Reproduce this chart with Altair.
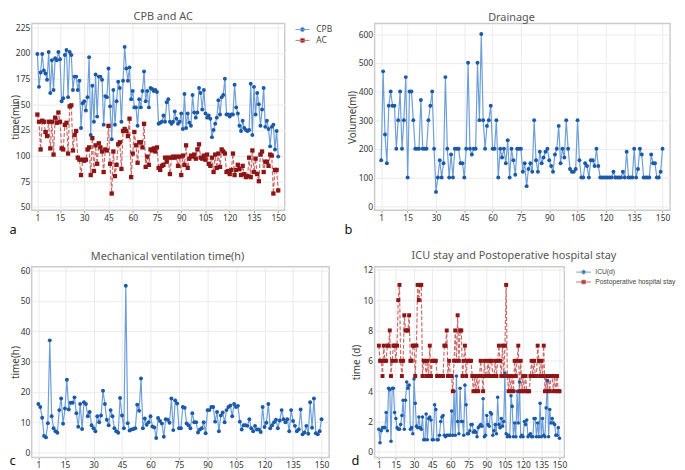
import altair as alt
import pandas as pd

FONT = "Noto Sans"
BLUE_D, BLUE_L = "#1c5aa8", "#6e9fd8"
RED_D, RED_L = "#8c1515", "#cc6a6a"

x_ticks = [1, 15, 30, 45, 60, 75, 90, 105, 120, 135, 150]
patient = list(range(1, 151))

cpb = [199, 167, 181, 199, 183, 180, 174, 201, 161, 193,
       164, 195, 193, 201, 194, 153, 156, 198, 203, 157,
       201, 198, 164, 177, 177, 164, 173, 127, 151, 153,
       144, 157, 196, 120, 168, 133, 179, 138, 177, 177,
       174, 130, 158, 157, 185, 148, 116, 164, 130, 153,
       172, 166, 133, 173, 206, 185, 173, 186, 155, 163,
       147, 147, 129, 155, 147, 163, 182, 153, 163, 147,
       166, 165, 163, 164, 162, 131, 132, 133, 139, 133,
       152, 155, 133, 131, 133, 143, 136, 131, 133, 141,
       126, 160, 127, 141, 132, 129, 159, 142, 137, 142,
       166, 161, 145, 164, 141, 137, 139, 136, 118, 125,
       131, 137, 154, 140, 157, 159, 175, 140, 140, 138,
       140, 140, 169, 147, 141, 129, 124, 134, 127, 125,
       124, 125, 170, 120, 167, 140, 161, 150, 129, 145,
       166, 128, 134, 126, 109, 128, 130, 106, 124, 99]

ac = [140, 133, 106, 134, 133, 123, 119, 133, 107, 133,
      101, 137, 132, 142, 133, 107, 106, 130, 132, 102,
      148, 149, 105, 120, 124, 98, 96, 81, 96, 95,
      96, 106, 108, 81, 117, 85, 110, 92, 112, 108,
      104, 84, 106, 105, 129, 92, 63, 104, 80, 91,
      111, 113, 87, 124, 126, 124, 119, 136, 79, 102,
      123, 110, 93, 113, 113, 108, 131, 89, 99, 91,
      106, 105, 107, 104, 108, 88, 86, 90, 91, 98,
      94, 98, 82, 98, 99, 98, 99, 90, 99, 81,
      100, 91, 110, 88, 97, 100, 99, 101, 97, 106,
      111, 98, 97, 100, 96, 101, 92, 90, 98, 84,
      101, 88, 102, 89, 106, 104, 102, 84, 85, 82,
      86, 102, 81, 86, 91, 87, 81, 90, 82, 79,
      80, 98, 79, 105, 84, 97, 82, 75, 101, 104,
      84, 94, 94, 90, 101, 100, 63, 86, 86, 66]

drainage = [160, 470, 250, 150, 350, 400, 350, 350, 200, 300,
            400, 200, 300, 450, 100, 400, 400, 300, 200, 200,
            200, 370, 200, 200, 200, 300, 350, 400, 200, 50,
            100, 160, 100, 150, 450, 200, 100, 180, 100, 200,
            200, 200, 150, 150, 100, 200, 500, 200, 180, 200,
            200, 500, 300, 600, 300, 200, 280, 300, 350, 200,
            200, 300, 100, 200, 170, 200, 150, 230, 100, 200,
            160, 110, 200, 200, 200, 120, 150, 70, 130, 150,
            120, 300, 160, 120, 190, 150, 170, 190, 200, 160,
            140, 120, 180, 200, 280, 150, 200, 170, 300, 200,
            130, 120, 120, 130, 300, 160, 100, 100, 150, 140,
            100, 160, 160, 140, 200, 140, 100, 100, 100, 100,
            100, 100, 100, 120, 100, 100, 100, 100, 120, 100,
            190, 100, 100, 100, 200, 100, 130, 200, 180, 100,
            100, 100, 100, 180, 150, 150, 100, 100, 120, 200]

ventilation = [16, 15, 11.5, 5.5, 5, 9.7, 37, 12, 8, 7,
               6.5, 14, 17.8, 9.5, 14.5, 24, 14.2, 16.4, 16.4, 18.2,
               13, 8.5, 16, 7.8, 16.6, 16, 12, 13.4, 9, 8,
               7, 12, 10, 12.2, 20.4, 16, 10.8, 9, 14, 12,
               8, 7, 6.5, 18, 12.2, 8, 55, 9.7, 7.3, 7.6,
               7.8, 8, 15.8, 13.8, 24.4, 8, 11.2, 9.2, 10, 12,
               8.6, 8.3, 4.8, 11.4, 10.4, 9.6, 5.2, 11, 10.8, 9.8,
               17.8, 7.4, 17.2, 16.2, 8, 8, 15, 14.8, 9.6, 9,
               8, 13, 10, 10, 6.6, 7.6, 8, 10, 6.4, 14,
               14, 15, 15, 10.2, 13.4, 7, 12.2, 13.2, 10, 14,
               15, 15.5, 12, 16, 15, 15.4, 10.2, 7.6, 9, 9,
               8.8, 11, 8, 7, 8.8, 7.6, 7.6, 6.8, 15, 8.4,
               9.8, 16, 8, 9, 10, 10.8, 8, 10.6, 14, 11,
               10, 11, 7, 14, 10.4, 8.8, 7, 7.6, 14.2, 6,
               6.6, 8.8, 6.2, 16.6, 8.2, 17.8, 6.4, 6, 7, 11]

icu = [1.5, 0.6, 1.4, 1.6, 1.6, 1.6, 2.6, 1.4, 4.2, 4.1,
       0.7, 4.2, 4.2, 2.6, 2.2, 1.6, 1.5, 1.5, 1.8, 2.4,
       3.4, 1.5, 3.4, 4.6, 4.2, 4.4, 1.5, 1.6, 1.2, 4.8,
       3.2, 1.7, 1.6, 2.3, 1.6, 1.5, 2.3, 0.8, 0.8, 2.5,
       0.8, 2.2, 2.3, 2.1, 0.8, 0.8, 3.1, 2.8, 0.8, 0.8,
       1.1, 2.0, 2.3, 2.4, 1.1, 1.0, 1.1, 1.1, 1.1, 1.1,
       2.7, 1.1, 4.0, 1.1, 5.0, 2.0, 1.2, 4.2, 2.0, 2.0,
       1.1, 4.4, 3.1, 1.2, 1.2, 1.4, 1.8, 1.8, 1.3, 1.4,
       1.3, 1.0, 1.6, 1.7, 1.8, 1.7, 3.5, 1.0, 1.1, 2.4,
       1.8, 1.7, 2.6, 2.5, 1.1, 1.4, 1.8, 1.2, 3.6, 1.8,
       1.6, 2.2, 1.7, 2.0, 5.2, 1.2, 1.0, 1.1, 1.0, 3.7,
       3.0, 1.0, 1.9, 1.0, 4.0, 1.9, 4.6, 1.0, 1.1, 1.0,
       2.0, 1.8, 2.1, 1.0, 1.1, 1.2, 1.0, 1.0, 2.2, 2.2,
       1.0, 1.9, 1.0, 3.2, 1.0, 2.2, 1.1, 1.0, 2.9, 4.7,
       1.0, 2.8, 1.9, 2.2, 1.9, 1.8, 1.1, 1.1, 1.6, 0.9]

hospital = [7, 6, 6, 5, 7, 6, 6, 7, 7, 8,
            5, 6, 7, 7, 6, 7, 10, 11, 6, 5,
            6, 9, 8, 8, 8, 9, 6, 6, 7, 7,
            5, 7, 11, 10, 11, 11, 5, 6, 6, 5,
            6, 5, 7, 5, 6, 6, 6, 6, 5, 5,
            5, 5, 5, 5, 7, 7, 8, 5, 6, 5,
            5, 4, 6, 8, 6, 9, 6, 8, 8, 5,
            6, 7, 5, 6, 6, 6, 6, 5, 4, 5,
            4, 5, 4, 5, 6, 5, 4, 6, 5, 5,
            6, 5, 6, 6, 5, 5, 6, 5, 6, 7,
            6, 5, 7, 5, 7, 11, 5, 4, 5, 4,
            5, 4, 6, 5, 6, 7, 4, 6, 4, 5,
            4, 5, 4, 4, 4, 5, 6, 5, 6, 5,
            5, 7, 6, 5, 6, 5, 7, 4, 5, 4,
            5, 4, 5, 5, 4, 5, 4, 5, 4, 4]

for arr in (cpb, ac, drainage, ventilation, icu, hospital):
    assert len(arr) == 150, len(arr)

names_a = ["CPB", "AC"]
names_d = ["ICU(d)", "Postoperative hospital stay"]

df_a = pd.DataFrame({"idx": patient * 2, "value": cpb + ac,
                     "series": [names_a[0]] * 150 + [names_a[1]] * 150})
df_b = pd.DataFrame({"idx": patient, "value": drainage})
df_c = pd.DataFrame({"idx": patient, "value": ventilation})
df_d = pd.DataFrame({"idx": patient * 2, "value": icu + hospital,
                     "series": [names_d[0]] * 150 + [names_d[1]] * 150})


def xenc(letter, tx, ty):
    return alt.X("idx:Q", scale=alt.Scale(domain=[-2.5, 154], nice=False, zero=False),
                 axis=alt.Axis(values=x_ticks, title=letter, titleX=tx, titleY=ty,
                               titleAlign="left", titleBaseline="alphabetic",
                               titleFontSize=13, titleColor="#111", titleFont=FONT,
                               titleFontWeight="normal", ticks=True, tickSize=2,
                               labelPadding=1, labelFlush=False, labelOverlap=False))


def yenc(title, dom, vals, tx):
    return alt.Y("value:Q", scale=alt.Scale(domain=dom, nice=False, zero=False),
                 axis=alt.Axis(values=vals, title=title, titleX=tx, titleBaseline="top",
                               ticks=False, labelPadding=2))


def ttl(text, dx, offset):
    return alt.TitleParams(text=text, font=FONT, fontSize=11, color="#555",
                           fontWeight="normal", anchor="middle", frame="group",
                           dx=dx, offset=offset)


def legend_paths(half):
    circ = (f"M-{half},0L{half},0M-0.38,0A0.38,0.38,0,1,1,0.38,0"
            "A0.38,0.38,0,1,1,-0.38,0Z")
    sqr = f"M-{half},0L{half},0M-0.36,-0.36L0.36,-0.36L0.36,0.36L-0.36,0.36Z"
    return [circ, sqr]


def two_series(df, names, xe, ye, leg_size, leg_font, leg_face, pt, half, loff,
               lab_off, lab_limit):
    base = alt.Chart(df)
    f1 = alt.datum.series == names[0]
    f2 = alt.datum.series == names[1]
    l1 = base.transform_filter(f1).mark_line(color=BLUE_L, strokeWidth=1.2).encode(x=xe, y=ye)
    l2 = base.transform_filter(f2).mark_line(color=RED_L, strokeWidth=1.2,
                                             strokeDash=[4, 2]).encode(x=xe, y=ye)
    p1 = base.transform_filter(f1).mark_point(shape="circle", filled=True, size=pt,
                                              color=BLUE_D, opacity=1).encode(x=xe, y=ye)
    p2 = base.transform_filter(f2).mark_point(shape="square", filled=True, size=pt + 3,
                                              color=RED_D, opacity=1).encode(x=xe, y=ye)
    lg = alt.Legend(title=None, orient="right", offset=loff, symbolSize=leg_size,
                    symbolStrokeWidth=1, labelFont=leg_face, labelFontSize=leg_font,
                    labelColor="#444", rowPadding=0, padding=0, labelOffset=lab_off,
                    labelLimit=lab_limit)
    leg = base.transform_filter("false").mark_point(filled=True, size=leg_size,
                                                    strokeWidth=1, opacity=1).encode(
        fill=alt.Fill("series:N", scale=alt.Scale(domain=names, range=[BLUE_D, RED_D]), legend=lg),
        stroke=alt.Stroke("series:N", scale=alt.Scale(domain=names, range=[BLUE_L, RED_L]), legend=lg),
        shape=alt.Shape("series:N", scale=alt.Scale(domain=names, range=legend_paths(half)), legend=lg),
    )
    return alt.layer(l1, l2, p1, p2, leg)


def one_series(df, xe, ye):
    base = alt.Chart(df)
    return alt.layer(
        base.mark_line(color=BLUE_L, strokeWidth=1.2).encode(x=xe, y=ye),
        base.mark_point(shape="circle", filled=True, size=16, color=BLUE_D,
                        opacity=1).encode(x=xe, y=ye),
    )


panel_a = two_series(
    df_a, names_a, xenc("a", -23, 23),
    yenc("time(min)", [46.6, 228.7], [50, 75, 100, 125, 150, 175, 200, 225], -21.5),
    110, 8.5, FONT, 16, 1.35, 12, 8, 200,
).properties(width=256, height=189, title=ttl("CPB and AC", 5, 1))

panel_b = one_series(
    df_b, xenc("b", -31, 23),
    yenc("Volume(ml)", [-14.4, 636.5], [0, 100, 200, 300, 400, 500, 600], -27),
).properties(width=299, height=189, title=ttl("Drainage", -11, 1))

panel_c = one_series(
    df_c, xenc("c", -23, 7),
    yenc("time(h)", [-1.6, 61.3], [0, 10, 20, 30, 40, 50, 60], -21.5),
).properties(width=301, height=193, title=ttl("Mechanical ventilation time(h)", -13, 4.7))

panel_d = two_series(
    df_d, names_d, xenc("d", -24, 7),
    yenc("time (d)", [-0.36, 12.2], [0, 2, 4, 6, 8, 10, 12], -23),
    100, 6.8, "Liberation Sans", 13, 1.5, 14, 6.3, 82,
).properties(width=192, height=193,
             title=ttl("ICU stay and Postoperative hospital stay", 45, 4.7))

chart = alt.concat(
    panel_a, panel_b, panel_c, panel_d, columns=2, bounds="flush",
    spacing={"row": 57, "column": 46},
).resolve_scale(
    fill="independent", stroke="independent", shape="independent",
).resolve_legend(
    fill="independent", stroke="independent", shape="independent",
).properties(
    padding={"left": 0, "top": 0, "right": 0, "bottom": 0}
).configure_view(
    stroke="#cccccc", strokeWidth=1.5
).configure_axis(
    domain=False, grid=True, gridColor="#ebebeb", gridWidth=1, tickColor="#999",
    labelFont=FONT, labelFontSize=8.5, labelColor="#333",
    titleFont=FONT, titleFontSize=10, titleColor="#444", titleFontWeight="normal",
)

chart.save("out.html", embed_options={"renderer": "svg", "actions": False})
